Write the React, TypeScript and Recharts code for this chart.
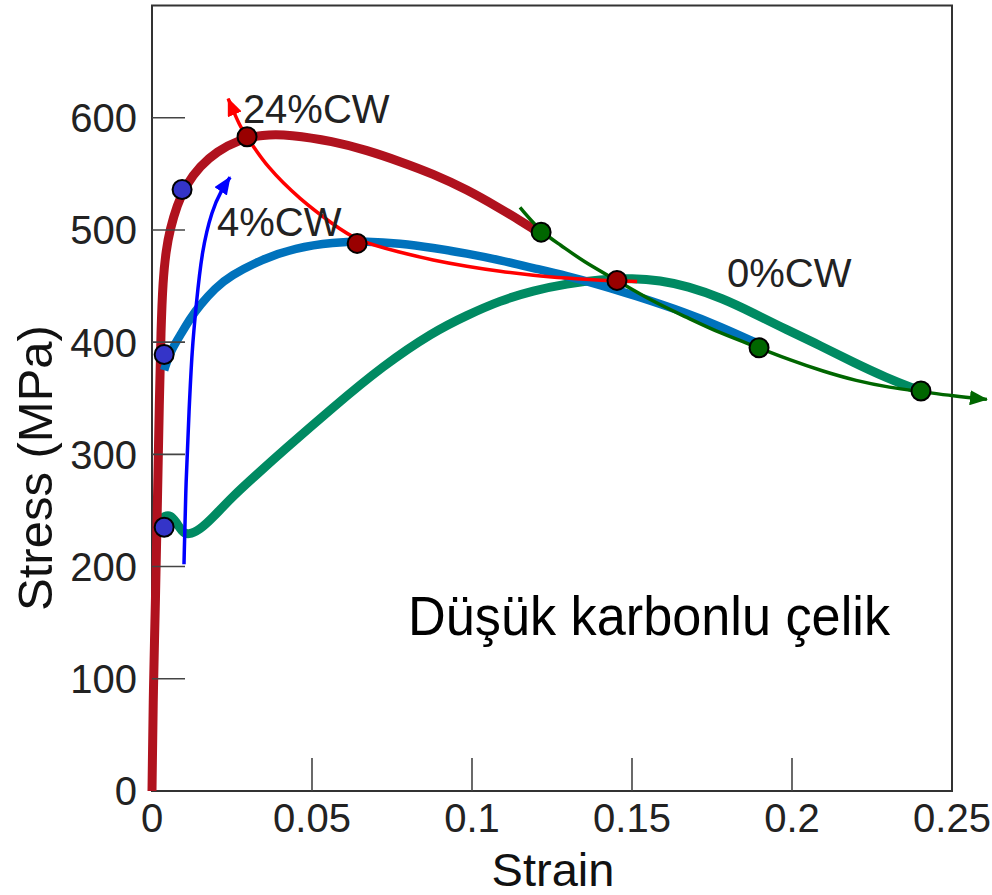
import React from "react";
import {
  ComposedChart,
  Line,
  Scatter,
  XAxis,
  YAxis,
  ReferenceArea,
  ReferenceDot,
} from "recharts";

const FONT = '"Liberation Sans", Arial, Helvetica, sans-serif';

const strainTicks = [0, 0.05, 0.1, 0.15, 0.2, 0.25];
const innerStrainTicks = [0.05, 0.1, 0.15, 0.2];
const stressTicks = [0, 100, 200, 300, 400, 500, 600];

// stress-strain curves (MPa vs strain)
const cw24 = [
  { strain: 0, stress: 0 },
  { strain: 0.0004, stress: 91 },
  { strain: 0.0011, stress: 170 },
  { strain: 0.0017, stress: 259 },
  { strain: 0.0023, stress: 348 },
  { strain: 0.0028, stress: 411 },
  { strain: 0.0034, stress: 455 },
  { strain: 0.0044, stress: 482 },
  { strain: 0.0056, stress: 500 },
  { strain: 0.0078, stress: 522 },
  { strain: 0.0106, stress: 540 },
  { strain: 0.015, stress: 557 },
  { strain: 0.0203, stress: 570 },
  { strain: 0.0269, stress: 580 },
  { strain: 0.0344, stress: 585 },
  { strain: 0.0431, stress: 585 },
  { strain: 0.0566, stress: 579 },
  { strain: 0.0672, stress: 571 },
  { strain: 0.0775, stress: 561 },
  { strain: 0.0878, stress: 550 },
  { strain: 0.0984, stress: 536 },
  { strain: 0.1088, stress: 519 },
  { strain: 0.1141, stress: 510 },
  { strain: 0.1197, stress: 500 },
];

const cw4 = [
  { strain: 0.0038, stress: 375 },
  { strain: 0.0056, stress: 391 },
  { strain: 0.0088, stress: 406 },
  { strain: 0.0119, stress: 421 },
  { strain: 0.015, stress: 433 },
  { strain: 0.0197, stress: 448 },
  { strain: 0.0244, stress: 459 },
  { strain: 0.0344, stress: 474 },
  { strain: 0.0447, stress: 484 },
  { strain: 0.0566, stress: 489 },
  { strain: 0.0672, stress: 490 },
  { strain: 0.0775, stress: 488 },
  { strain: 0.0878, stress: 484 },
  { strain: 0.0984, stress: 479 },
  { strain: 0.1088, stress: 473 },
  { strain: 0.1191, stress: 466 },
  { strain: 0.1297, stress: 459 },
  { strain: 0.14, stress: 451 },
  { strain: 0.1503, stress: 442 },
  { strain: 0.1672, stress: 426 },
  { strain: 0.1775, stress: 414 },
  { strain: 0.1884, stress: 400 },
];

const cw0 = [
  { strain: 0.0025, stress: 242 },
  { strain: 0.0041, stress: 245 },
  { strain: 0.0056, stress: 246 },
  { strain: 0.0075, stress: 240 },
  { strain: 0.0094, stress: 231 },
  { strain: 0.0113, stress: 228 },
  { strain: 0.015, stress: 233 },
  { strain: 0.0188, stress: 243 },
  { strain: 0.025, stress: 262 },
  { strain: 0.0331, stress: 283 },
  { strain: 0.0409, stress: 303 },
  { strain: 0.0566, stress: 342 },
  { strain: 0.0722, stress: 379 },
  { strain: 0.0878, stress: 409 },
  { strain: 0.0984, stress: 424 },
  { strain: 0.1088, stress: 437 },
  { strain: 0.1191, stress: 446 },
  { strain: 0.1297, stress: 452 },
  { strain: 0.14, stress: 456 },
  { strain: 0.1503, stress: 457 },
  { strain: 0.1588, stress: 455 },
  { strain: 0.1672, stress: 450 },
  { strain: 0.1784, stress: 439 },
  { strain: 0.1878, stress: 426 },
  { strain: 0.1984, stress: 411 },
  { strain: 0.2088, stress: 397 },
  { strain: 0.2191, stress: 382 },
  { strain: 0.2297, stress: 368 },
  { strain: 0.2378, stress: 359 },
  { strain: 0.2403, stress: 356.5 },
];

// trend arrows
const tensileTrend = [
  { strain: 0.0238, stress: 617 },
  { strain: 0.0275, stress: 592 },
  { strain: 0.0297, stress: 583 },
  { strain: 0.0359, stress: 556 },
  { strain: 0.0463, stress: 527 },
  { strain: 0.0566, stress: 505 },
  { strain: 0.0641, stress: 490 },
  { strain: 0.0775, stress: 480 },
  { strain: 0.0878, stress: 473 },
  { strain: 0.0984, stress: 467.5 },
  { strain: 0.1088, stress: 463 },
  { strain: 0.1191, stress: 459.5 },
  { strain: 0.1297, stress: 457 },
  { strain: 0.14, stress: 455 },
  { strain: 0.1516, stress: 454 },
];

const ductilityTrend = [
  { strain: 0.115, stress: 520 },
  { strain: 0.1216, stress: 498 },
  { strain: 0.1275, stress: 487 },
  { strain: 0.1347, stress: 472 },
  { strain: 0.1453, stress: 455 },
  { strain: 0.1566, stress: 436 },
  { strain: 0.1672, stress: 422 },
  { strain: 0.1775, stress: 408 },
  { strain: 0.1897, stress: 395 },
  { strain: 0.1994, stress: 384 },
  { strain: 0.2097, stress: 374 },
  { strain: 0.22, stress: 365.5 },
  { strain: 0.2306, stress: 359.5 },
  { strain: 0.2403, stress: 356 },
  { strain: 0.2503, stress: 352 },
  { strain: 0.2609, stress: 349 },
];

const yieldTrend = [
  { strain: 0.01, stress: 202 },
  { strain: 0.0106, stress: 277 },
  { strain: 0.0116, stress: 340 },
  { strain: 0.0125, stress: 393 },
  { strain: 0.0138, stress: 433 },
  { strain: 0.0156, stress: 482 },
  { strain: 0.0188, stress: 518 },
  { strain: 0.0216, stress: 535 },
  { strain: 0.0244, stress: 547 },
];

// marked points
const yieldPoints = [
  { strain: 0.0038, stress: 235 },
  { strain: 0.0038, stress: 389 },
  { strain: 0.0094, stress: 536 },
];
const tensilePoints = [
  { strain: 0.0297, stress: 583 },
  { strain: 0.0641, stress: 488 },
  { strain: 0.1453, stress: 455 },
];
const ductilityPoints = [
  { strain: 0.1216, stress: 498 },
  { strain: 0.1897, stress: 395 },
  { strain: 0.2403, stress: 356.5 },
];

const annotations = [
  { text: "24%CW", strain: 0.0284, stress: 595 },
  { text: "4%CW", strain: 0.0203, stress: 495 },
  { text: "0%CW", strain: 0.1797, stress: 449 },
];
const caption = { text: "Düşük karbonlu çelik", strain: 0.08, stress: 139 };

function StressTick({ x, y, payload }: any) {
  return (
    <g>
      {payload.value !== 0 && (
        <line x1={x} x2={x + 33} y1={y} y2={y} stroke="#444" strokeWidth={1.6} />
      )}
      <text
        x={x - 15}
        y={y}
        dy="0.36em"
        textAnchor="end"
        fontSize={40}
        fill="#222"
        fontFamily={FONT}
      >
        {payload.value}
      </text>
    </g>
  );
}

function StrainTick({ x, y, payload }: any) {
  const v = payload.value;
  return (
    <g>
      {v > 0 && v < 0.25 && (
        <line x1={x} x2={x} y1={y} y2={y - 33} stroke="#444" strokeWidth={1.6} />
      )}
      <text x={x} y={y + 41} textAnchor="middle" fontSize={40} fill="#222" fontFamily={FONT}>
        {String(v)}
      </text>
    </g>
  );
}

function TopTick({ x, y }: any) {
  return <line x1={x} x2={x} y1={y} y2={y + 33} stroke="#444" strokeWidth={1.6} />;
}

const dotShape = (color: string) => (p: any) => (
  <circle cx={p.cx} cy={p.cy} r={9.5} fill={color} stroke="#000" strokeWidth={2} />
);

const Head = ({ id, color }: { id: string; color: string }) => (
  <marker
    id={id}
    viewBox="0 0 18 15"
    refX={17}
    refY={7.5}
    markerWidth={18}
    markerHeight={15}
    markerUnits="userSpaceOnUse"
    orient="auto-start-reverse"
  >
    <path d="M0,0 L18,7.5 L0,15 z" fill={color} />
  </marker>
);

export default function App() {
  return (
    <div style={{ position: "absolute", left: 0, top: 0, background: "#fff" }}>
      <ComposedChart
        width={992}
        height={895}
        margin={{ top: 5.5, right: 1.6, left: 0, bottom: 0 }}
      >
        <defs>
          <Head id="headRed" color="#ff0000" />
          <Head id="headGreen" color="#006600" />
          <Head id="headBlue" color="#0000ff" />
        </defs>
        <XAxis
          xAxisId={0}
          type="number"
          dataKey="strain"
          domain={[0, 0.262]}
          ticks={strainTicks}
          interval={0}
          height={104}
          axisLine={false}
          tickLine={false}
          tickSize={0}
          tickMargin={0}
          tick={<StrainTick />}
          label={{
            content: () => (
              <text x={553} y={886} textAnchor="middle" fontSize={47} fill="#111" fontFamily={FONT}>
                Strain
              </text>
            ),
          }}
        />
        <XAxis
          xAxisId="top"
          orientation="top"
          type="number"
          dataKey="strain"
          domain={[0, 0.262]}
          ticks={innerStrainTicks}
          interval={0}
          height={0}
          axisLine={false}
          tickLine={false}
          tickSize={0}
          tickMargin={0}
          tick={<TopTick />}
        />
        <YAxis
          type="number"
          dataKey="stress"
          domain={[0, 700]}
          ticks={stressTicks}
          interval={0}
          width={152}
          axisLine={false}
          tickLine={false}
          tickSize={0}
          tickMargin={0}
          tick={<StressTick />}
          label={{
            content: () => (
              <text
                transform="translate(52,468) rotate(-90)"
                textAnchor="middle"
                fontSize={49}
                fill="#111"
                fontFamily={FONT}
              >
                Stress (MPa)
              </text>
            ),
          }}
        />
        <ReferenceArea
          x1={0}
          x2={0.25}
          y1={0}
          y2={700}
          fill="none"
          stroke="#333"
          strokeWidth={2}
        />

        <Line data={cw0} dataKey="stress" type="basis" stroke="#008a62" strokeWidth={9} dot={false} activeDot={false} isAnimationActive={false} />
        <Line data={cw24} dataKey="stress" type="basis" stroke="#b0121e" strokeWidth={9} dot={false} activeDot={false} isAnimationActive={false} />
        <Line data={cw4} dataKey="stress" type="basis" stroke="#0072bc" strokeWidth={8.5} dot={false} activeDot={false} isAnimationActive={false} />

        <Line data={tensileTrend} dataKey="stress" type="basis" stroke="#ff0000" strokeWidth={3.5} dot={false} activeDot={false} markerStart="url(#headRed)" isAnimationActive={false} />
        <Line data={ductilityTrend} dataKey="stress" type="basis" stroke="#006600" strokeWidth={3.5} dot={false} activeDot={false} markerEnd="url(#headGreen)" isAnimationActive={false} />
        <Line data={yieldTrend} dataKey="stress" type="basis" stroke="#0000ff" strokeWidth={3.5} dot={false} activeDot={false} markerEnd="url(#headBlue)" isAnimationActive={false} />

        <Scatter data={yieldPoints} dataKey="stress" fill="#3434c8" shape={dotShape("#3434c8")} isAnimationActive={false} />
        <Scatter data={tensilePoints} dataKey="stress" fill="#990000" shape={dotShape("#990000")} isAnimationActive={false} />
        <Scatter data={ductilityPoints} dataKey="stress" fill="#006600" shape={dotShape("#006600")} isAnimationActive={false} />

        {annotations.map((a) => (
          <ReferenceDot
            key={a.text}
            x={a.strain}
            y={a.stress}
            r={0}
            shape={(p: any) => (
              <text x={p.cx} y={p.cy} fontSize={40} fill="#222" fontFamily={FONT}>
                {a.text}
              </text>
            )}
          />
        ))}
        <ReferenceDot
          x={caption.strain}
          y={caption.stress}
          r={0}
          shape={(p: any) => (
            <text
              x={p.cx}
              y={p.cy}
              fontSize={56}
              textLength={482}
              lengthAdjust="spacingAndGlyphs"
              fill="#000"
              fontFamily={FONT}
            >
              {caption.text}
            </text>
          )}
        />
      </ComposedChart>
    </div>
  );
}
